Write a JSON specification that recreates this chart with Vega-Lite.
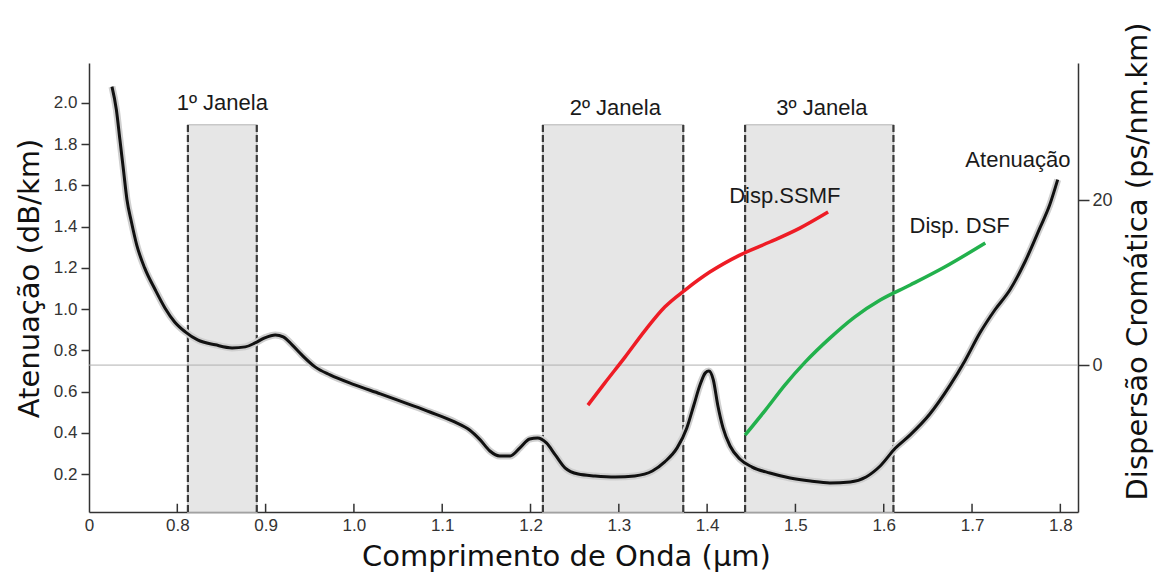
{
  "$schema": "https://vega.github.io/schema/vega-lite/v6.json",
  "width": 989,
  "height": 449,
  "autosize": "none",
  "padding": {"left": 89, "top": 63, "right": 88, "bottom": 65},
  "background": "white",
  "config": {"view": {"stroke": null}},
  "datasets": {
    "atten": [
      {"wl": 0.726, "att": 2.079}, {"wl": 0.731, "att": 1.967}, {"wl": 0.735, "att": 1.822}, {"wl": 0.739, "att": 1.676},
      {"wl": 0.743, "att": 1.531}, {"wl": 0.748, "att": 1.424}, {"wl": 0.754, "att": 1.312}, {"wl": 0.763, "att": 1.2},
      {"wl": 0.775, "att": 1.094}, {"wl": 0.786, "att": 1.006}, {"wl": 0.797, "att": 0.938}, {"wl": 0.809, "att": 0.89},
      {"wl": 0.823, "att": 0.851}, {"wl": 0.843, "att": 0.827}, {"wl": 0.862, "att": 0.812}, {"wl": 0.877, "att": 0.817},
      {"wl": 0.888, "att": 0.836}, {"wl": 0.899, "att": 0.861}, {"wl": 0.911, "att": 0.875}, {"wl": 0.92, "att": 0.866},
      {"wl": 0.93, "att": 0.827}, {"wl": 0.941, "att": 0.778}, {"wl": 0.956, "att": 0.72}, {"wl": 0.973, "att": 0.681},
      {"wl": 1.001, "att": 0.633}, {"wl": 1.03, "att": 0.589}, {"wl": 1.058, "att": 0.545}, {"wl": 1.086, "att": 0.501},
      {"wl": 1.114, "att": 0.453}, {"wl": 1.131, "att": 0.414}, {"wl": 1.143, "att": 0.366}, {"wl": 1.154, "att": 0.312},
      {"wl": 1.165, "att": 0.288}, {"wl": 1.177, "att": 0.288}, {"wl": 1.188, "att": 0.327}, {"wl": 1.199, "att": 0.37},
      {"wl": 1.208, "att": 0.375}, {"wl": 1.218, "att": 0.351}, {"wl": 1.228, "att": 0.293}, {"wl": 1.239, "att": 0.23},
      {"wl": 1.254, "att": 0.2}, {"wl": 1.273, "att": 0.191}, {"wl": 1.296, "att": 0.186}, {"wl": 1.318, "att": 0.191},
      {"wl": 1.338, "att": 0.215}, {"wl": 1.352, "att": 0.259}, {"wl": 1.366, "att": 0.327}, {"wl": 1.377, "att": 0.424},
      {"wl": 1.385, "att": 0.535}, {"wl": 1.392, "att": 0.633}, {"wl": 1.398, "att": 0.691}, {"wl": 1.402, "att": 0.7},
      {"wl": 1.407, "att": 0.657}, {"wl": 1.412, "att": 0.535}, {"wl": 1.418, "att": 0.424}, {"wl": 1.426, "att": 0.336},
      {"wl": 1.437, "att": 0.273}, {"wl": 1.451, "att": 0.234}, {"wl": 1.471, "att": 0.205}, {"wl": 1.494, "att": 0.181},
      {"wl": 1.517, "att": 0.166}, {"wl": 1.539, "att": 0.157}, {"wl": 1.562, "att": 0.162}, {"wl": 1.58, "att": 0.186},
      {"wl": 1.596, "att": 0.239}, {"wl": 1.613, "att": 0.325}, {"wl": 1.63, "att": 0.39}, {"wl": 1.652, "att": 0.49},
      {"wl": 1.675, "att": 0.63}, {"wl": 1.692, "att": 0.75}, {"wl": 1.709, "att": 0.885}, {"wl": 1.726, "att": 0.997},
      {"wl": 1.743, "att": 1.094}, {"wl": 1.76, "att": 1.23}, {"wl": 1.777, "att": 1.395}, {"wl": 1.788, "att": 1.506},
      {"wl": 1.797, "att": 1.628}
    ],
    "disp": [
      {"wl": 1.265, "d": -4.85, "fiber": "SSMF"}, {"wl": 1.284, "d": -2.18, "fiber": "SSMF"}, {"wl": 1.307, "d": 0.97, "fiber": "SSMF"},
      {"wl": 1.33, "d": 4.24, "fiber": "SSMF"}, {"wl": 1.352, "d": 7.03, "fiber": "SSMF"}, {"wl": 1.375, "d": 9.09, "fiber": "SSMF"},
      {"wl": 1.403, "d": 11.27, "fiber": "SSMF"}, {"wl": 1.437, "d": 13.33, "fiber": "SSMF"}, {"wl": 1.471, "d": 14.91, "fiber": "SSMF"},
      {"wl": 1.505, "d": 16.6, "fiber": "SSMF"}, {"wl": 1.537, "d": 18.55, "fiber": "SSMF"},
      {"wl": 1.443, "d": -8.48, "fiber": "DSF"}, {"wl": 1.466, "d": -5.45, "fiber": "DSF"}, {"wl": 1.488, "d": -2.42, "fiber": "DSF"},
      {"wl": 1.511, "d": 0.36, "fiber": "DSF"}, {"wl": 1.539, "d": 3.27, "fiber": "DSF"}, {"wl": 1.567, "d": 5.82, "fiber": "DSF"},
      {"wl": 1.596, "d": 7.88, "fiber": "DSF"}, {"wl": 1.63, "d": 9.7, "fiber": "DSF"}, {"wl": 1.669, "d": 11.88, "fiber": "DSF"},
      {"wl": 1.715, "d": 14.79, "fiber": "DSF"}
    ],
    "windows": [
      {"name": "1º Janela", "start": 0.812, "end": 0.89, "bottom": 0.016, "top": 1.895},
      {"name": "2º Janela", "start": 1.214, "end": 1.373, "bottom": 0.016, "top": 1.895},
      {"name": "3º Janela", "start": 1.443, "end": 1.611, "bottom": 0.016, "top": 1.895}
    ],
    "edges": [
      {"edge": 0.812, "bottom": 0.016, "top": 1.895}, {"edge": 0.89, "bottom": 0.016, "top": 1.895},
      {"edge": 1.214, "bottom": 0.016, "top": 1.895}, {"edge": 1.373, "bottom": 0.016, "top": 1.895},
      {"edge": 1.443, "bottom": 0.016, "top": 1.895}, {"edge": 1.611, "bottom": 0.016, "top": 1.895}
    ],
    "xticks": [
      {"t": 0.8, "b": 0.016, "e": 0.056}, {"t": 0.9, "b": 0.016, "e": 0.056}, {"t": 1.0, "b": 0.016, "e": 0.056},
      {"t": 1.1, "b": 0.016, "e": 0.056}, {"t": 1.2, "b": 0.016, "e": 0.056}, {"t": 1.3, "b": 0.016, "e": 0.056},
      {"t": 1.4, "b": 0.016, "e": 0.056}, {"t": 1.5, "b": 0.016, "e": 0.056}, {"t": 1.6, "b": 0.016, "e": 0.056},
      {"t": 1.7, "b": 0.016, "e": 0.056}, {"t": 1.8, "b": 0.016, "e": 0.056}
    ],
    "labels": [
      {"label": "1º Janela", "lx": 0.851, "ly": 2.0},
      {"label": "2º Janela", "lx": 1.296, "ly": 1.977},
      {"label": "3º Janela", "lx": 1.53, "ly": 1.977},
      {"label": "Disp.SSMF", "lx": 1.488, "ly": 1.55},
      {"label": "Disp. DSF", "lx": 1.686, "ly": 1.405},
      {"label": "Atenuação", "lx": 1.752, "ly": 1.725}
    ],
    "zero": [{"z": 0}]
  },
  "resolve": {"scale": {"y": "independent"}},
  "layer": [
    {
      "data": {"name": "windows"},
      "mark": {"type": "rect", "fill": "#e6e6e6", "stroke": "#c8c8c8", "strokeWidth": 1.5},
      "encoding": {
        "x": {
          "field": "start", "type": "quantitative",
          "scale": {"domain": [0.7, 1.82], "nice": false, "zero": false},
          "axis": {
            "title": "Comprimento de Onda (µm)",
            "values": [0.7, 0.8, 0.9, 1.0, 1.1, 1.2, 1.3, 1.4, 1.5, 1.6, 1.7, 1.8],
            "labelExpr": "datum.value < 0.75 ? '0' : format(datum.value, '.1f')",
            "domainColor": "#333", "domainWidth": 1.5,
            "ticks": false,
            "labelPadding": 5, "labelFont": "Liberation Sans", "labelFontSize": 17, "labelColor": "#333",
            "labelFlush": false, "labelOverlap": false, "grid": false,
            "titleFont": "DejaVu Sans", "titleFontSize": 29, "titleFontWeight": "normal", "titleColor": "#111",
            "titlePadding": 9, "titleX": 477
          }
        },
        "x2": {"field": "end"},
        "y": {
          "field": "bottom", "type": "quantitative",
          "scale": {"domain": [0.016, 2.194], "nice": false, "zero": false},
          "axis": {
            "title": "Atenuação (dB/km)",
            "values": [0.2, 0.4, 0.6, 0.8, 1.0, 1.2, 1.4, 1.6, 1.8, 2.0],
            "format": ".1f",
            "domainColor": "#333", "domainWidth": 1.5,
            "tickColor": "#333", "tickWidth": 1.5, "tickSize": 8,
            "labelPadding": 4, "labelFont": "Liberation Sans", "labelFontSize": 17, "labelColor": "#333",
            "labelFlush": false, "labelOverlap": false, "grid": false,
            "titleFont": "DejaVu Sans", "titleFontSize": 29, "titleFontWeight": "normal", "titleColor": "#111",
            "titlePadding": 9, "titleY": 215
          }
        },
        "y2": {"field": "top"}
      }
    },
    {
      "data": {"name": "edges"},
      "mark": {"type": "rule", "stroke": "#3a3a3a", "strokeWidth": 2.2, "strokeDash": [7, 3]},
      "encoding": {
        "x": {"field": "edge", "type": "quantitative"},
        "y": {"field": "bottom", "type": "quantitative", "scale": {"domain": [0.016, 2.194], "nice": false, "zero": false}, "axis": null},
        "y2": {"field": "top"}
      }
    },
    {
      "data": {"name": "xticks"},
      "mark": {"type": "rule", "stroke": "#333", "strokeWidth": 1.5},
      "encoding": {
        "x": {"field": "t", "type": "quantitative"},
        "y": {"field": "b", "type": "quantitative", "scale": {"domain": [0.016, 2.194], "nice": false, "zero": false}, "axis": null},
        "y2": {"field": "e"}
      }
    },
    {
      "data": {"name": "zero"},
      "mark": {"type": "rule", "stroke": "#b0b0b0", "strokeWidth": 1},
      "encoding": {
        "y": {
          "field": "z", "type": "quantitative",
          "scale": {"domain": [-17.8, 36.6], "nice": false, "zero": false},
          "axis": {
            "orient": "right",
            "title": "Dispersão Cromática (ps/nm.km)",
            "values": [0, 20],
            "domainColor": "#333", "domainWidth": 1.5,
            "tickColor": "#333", "tickWidth": 1.5, "tickSize": 11,
            "labelPadding": 3, "labelFont": "Liberation Sans", "labelFontSize": 18, "labelColor": "#333",
            "labelFlush": false, "grid": false,
            "titleFont": "DejaVu Sans", "titleFontSize": 29, "titleFontWeight": "normal", "titleColor": "#111",
            "titleAngle": 270, "titleBaseline": "top", "titlePadding": 11, "titleY": 198
          }
        }
      }
    },
    {
      "data": {"name": "atten"},
      "mark": {"type": "line", "stroke": "#cfcfcf", "strokeWidth": 7, "interpolate": "monotone"},
      "encoding": {
        "x": {"field": "wl", "type": "quantitative"},
        "y": {"field": "att", "type": "quantitative", "scale": {"domain": [0.016, 2.194], "nice": false, "zero": false}, "axis": null}
      }
    },
    {
      "data": {"name": "atten"},
      "mark": {"type": "line", "stroke": "#111111", "strokeWidth": 3, "interpolate": "monotone"},
      "encoding": {
        "x": {"field": "wl", "type": "quantitative"},
        "y": {"field": "att", "type": "quantitative", "scale": {"domain": [0.016, 2.194], "nice": false, "zero": false}, "axis": null}
      }
    },
    {
      "data": {"name": "disp"},
      "mark": {"type": "line", "strokeWidth": 3.5, "interpolate": "monotone"},
      "encoding": {
        "x": {"field": "wl", "type": "quantitative"},
        "y": {"field": "d", "type": "quantitative", "scale": {"domain": [-17.8, 36.6], "nice": false, "zero": false}, "axis": null},
        "detail": {"field": "fiber"},
        "color": {
          "field": "fiber", "type": "nominal",
          "scale": {"domain": ["SSMF", "DSF"], "range": ["#ee1c25", "#22b14c"]},
          "legend": null
        }
      }
    },
    {
      "data": {"name": "labels"},
      "mark": {"type": "text", "font": "Liberation Sans", "fontSize": 22, "color": "#1a1a1a", "align": "center", "baseline": "middle"},
      "encoding": {
        "x": {"field": "lx", "type": "quantitative"},
        "y": {"field": "ly", "type": "quantitative", "scale": {"domain": [0.016, 2.194], "nice": false, "zero": false}, "axis": null},
        "text": {"field": "label"}
      }
    }
  ]
}
